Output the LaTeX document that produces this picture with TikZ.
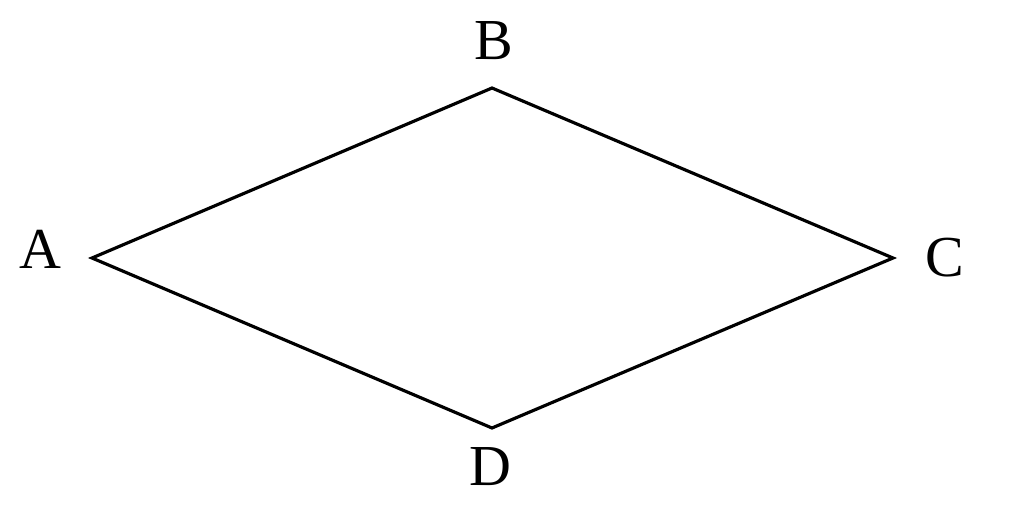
\documentclass[tikz,border=0pt]{standalone}
\usepackage{fontspec}
\setmainfont{Liberation Serif}
\usepackage{tikz}
\usetikzlibrary{calc}

\begin{document}
\begin{tikzpicture}[lbl/.style={font=\fontsize{33}{40}\selectfont, inner sep=0pt}]
\useasboundingbox (0,0) rectangle (20.48,10.32);
\coordinate (A) at (1.84,5.16);
\coordinate (B) at (9.84,8.56);
\coordinate (C) at (17.86,5.16);
\coordinate (D) at (9.84,1.76);
\draw[line width=1.8pt, line join=miter] (A) -- (B) -- (C) -- (D) -- cycle;
\node[lbl] (labA) at (0.8,5.34) {A};
\node[lbl] (labB) at (9.88,9.5) {B};
\node[lbl] (labC) at (18.9,5.16) {C};
\node[lbl] (labD) at (9.8,0.98) {D};
\end{tikzpicture}
\end{document}
